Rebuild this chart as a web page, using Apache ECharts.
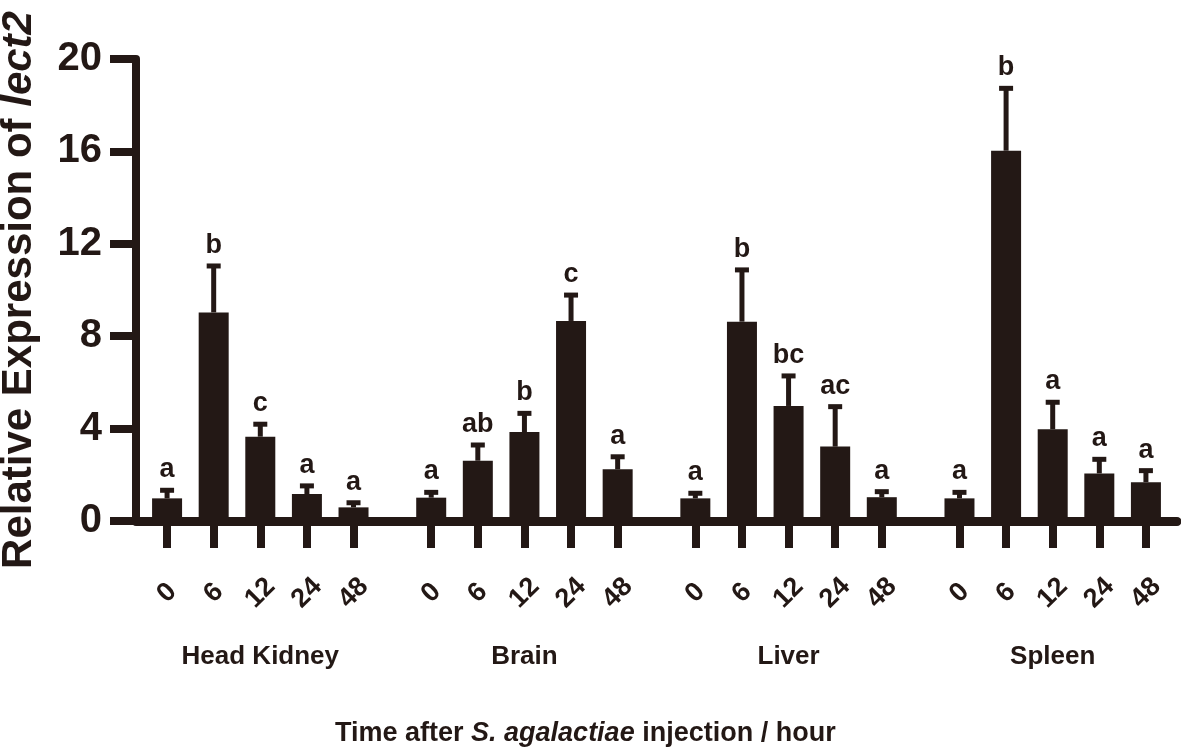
<!DOCTYPE html>
<html>
<head>
<meta charset="utf-8">
<script src="https://cdn.jsdelivr.net/npm/echarts@6/dist/echarts.min.js"></script>
<style>
html,body{margin:0;padding:0;background:#fff;}
#c{width:1181px;height:750px;}
</style>
</head>
<body>
<div id="c"></div>
<script>
// ---- data ----
const groups = ['Head Kidney', 'Brain', 'Liver', 'Spleen'];
const times = ['0', '6', '12', '24', '48'];
const meanHeadKidney = [0.98, 9.03, 3.65, 1.17, 0.59];
const errHeadKidney  = [0.35, 2.01, 0.54, 0.35, 0.20];
const sigHeadKidney  = ['a', 'b', 'c', 'a', 'a'];
const meanBrain = [1.01, 2.61, 3.85, 8.66, 2.24];
const errBrain  = [0.23, 0.68, 0.81, 1.12, 0.54];
const sigBrain  = ['a', 'ab', 'b', 'c', 'a'];
const meanLiver = [0.98, 8.63, 4.98, 3.22, 1.03];
const errLiver  = [0.22, 2.24, 1.30, 1.73, 0.24];
const sigLiver  = ['a', 'b', 'bc', 'ac', 'a'];
const meanSpleen = [0.98, 16.03, 3.97, 2.06, 1.68];
const errSpleen  = [0.26, 2.70, 1.17, 0.61, 0.50];
const sigSpleen  = ['a', 'b', 'a', 'a', 'a'];
const yTicks = [0, 4, 8, 12, 16, 20];

const means = [meanHeadKidney, meanBrain, meanLiver, meanSpleen];
const errs = [errHeadKidney, errBrain, errLiver, errSpleen];
const sigs = [sigHeadKidney, sigBrain, sigLiver, sigSpleen];

// ---- category slot layout (fine slots so group gaps match) ----
const LEAD = 2, STEP = 3, GROUP_STEP = 17, TRAIL = 2;
const lastSlot = LEAD + GROUP_STEP * (groups.length - 1) + STEP * (times.length - 1);
const N = lastSlot + 1 + TRAIL;
const slotIdx = (g, i) => LEAD + GROUP_STEP * g + STEP * i;
const slotNames = [], timeLabel = [], groupLabel = [];
for (let k = 0; k < N; k++) { slotNames.push('s' + k); timeLabel.push(''); groupLabel.push(''); }
const barData = [], errData = [];
groups.forEach((gname, g) => {
  groupLabel[slotIdx(g, 2)] = gname;
  times.forEach((t, i) => {
    const k = slotIdx(g, i);
    timeLabel[k] = t;
    barData.push([k, means[g][i]]);
    errData.push([k, means[g][i], errs[g][i], sigs[g][i]]);
  });
});

const INK = '#231815';
const FONT = '"Liberation Sans", Arial, Helvetica, sans-serif';

const chart = echarts.init(document.getElementById('c'), null, {renderer: 'canvas'});
chart.setOption({
  animation: false,
  backgroundColor: '#ffffff',
  title: {
    text: '{n|Time after }{i|S. agalactiae}{n| injection / hour}',
    left: 330, top: 715,
    textStyle: {
      rich: {
        n: {fontFamily: FONT, fontWeight: 'bold', fontSize: 27, color: INK},
        i: {fontFamily: FONT, fontWeight: 'bold', fontStyle: 'italic', fontSize: 27, color: INK}
      }
    }
  },
  grid: {left: 136, right: 4, top: 59, bottom: 229, containLabel: false, outerBoundsMode: 'none'},
  xAxis: [{
    type: 'category', position: 'bottom', data: slotNames, boundaryGap: false,
    axisLine: {show: true, onZero: true, lineStyle: {color: INK, width: 9}},
    axisTick: {show: true, length: 27, interval: (idx) => timeLabel[idx] !== '', lineStyle: {color: INK, width: 8}},
    axisLabel: {
      show: true, interval: (idx) => timeLabel[idx] !== '',
      formatter: (v, idx) => timeLabel[idx],
      rotate: 45, align: 'center', verticalAlign: 'middle', margin: 72,
      fontFamily: FONT, fontWeight: 'bold', fontSize: 27, color: INK
    },
    splitLine: {show: false}
  }, {
    type: 'category', position: 'bottom', data: slotNames, boundaryGap: false,
    axisLine: {show: false}, axisTick: {show: false}, splitLine: {show: false},
    axisLabel: {
      show: true, interval: (idx) => groupLabel[idx] !== '',
      formatter: (v, idx) => groupLabel[idx],
      align: 'center', verticalAlign: 'middle', margin: 136,
      fontFamily: FONT, fontWeight: 'bold', fontSize: 26, color: INK
    }
  }],
  yAxis: {
    type: 'value', min: yTicks[0], max: yTicks[yTicks.length - 1], interval: 4,
    name: '{n|Relative Expression of }{i|lect2}',
    nameLocation: 'middle', nameRotate: 90, nameGap: 96,
    nameTextStyle: {
      rich: {
        n: {fontFamily: FONT, fontWeight: 'bold', fontSize: 42, color: INK},
        i: {fontFamily: FONT, fontWeight: 'bold', fontStyle: 'italic', fontSize: 42, color: INK}
      }
    },
    axisLine: {show: true, lineStyle: {color: INK, width: 8}},
    axisTick: {show: true, length: 26, lineStyle: {color: INK, width: 8}},
    axisLabel: {show: true, margin: 34, fontFamily: FONT, fontWeight: 'bold', fontSize: 40, color: INK},
    splitLine: {show: false}
  },
  series: [{
    type: 'bar', xAxisIndex: 0, data: barData, barWidth: 30,
    itemStyle: {color: INK}, z: 2
  }, {
    type: 'custom', xAxisIndex: 0, data: errData, z: 3,
    renderItem: function (params, api) {
      const k = api.value(0), m = api.value(1), e = api.value(2);
      const letter = errData[params.dataIndex][3];
      const base = api.coord([k, m]);
      const top = api.coord([k, m + e]);
      const capHalf = 7;
      return {
        type: 'group',
        children: [
          {type: 'line', shape: {x1: base[0], y1: base[1], x2: top[0], y2: top[1]}, style: {stroke: INK, lineWidth: 5}},
          {type: 'line', shape: {x1: top[0] - capHalf, y1: top[1], x2: top[0] + capHalf, y2: top[1]}, style: {stroke: INK, lineWidth: 5}},
          {type: 'text', x: top[0], y: top[1] - 7, style: {text: letter, fill: INK, font: 'bold 27px ' + FONT, textAlign: 'center', textVerticalAlign: 'bottom'}}
        ]
      };
    }
  }]
});
</script>
</body>
</html>
